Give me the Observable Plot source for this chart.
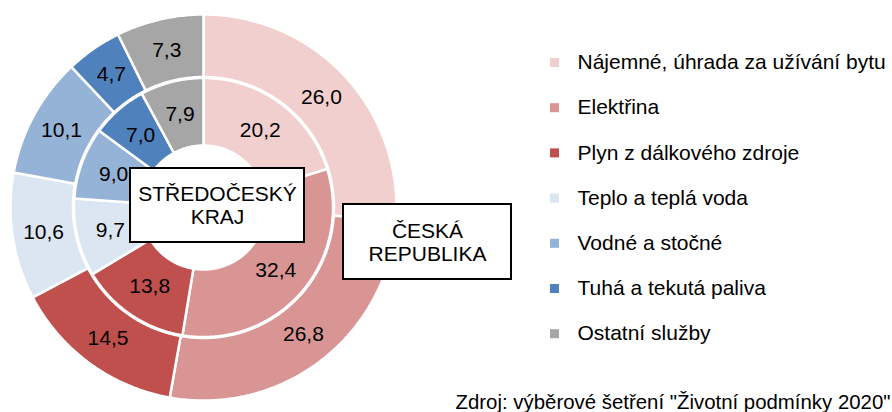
<!DOCTYPE html>
<html>
<head>
<meta charset="utf-8">
<script src="https://cdn.jsdelivr.net/npm/d3@7"></script>
<script src="https://cdn.jsdelivr.net/npm/@observablehq/plot@0.6"></script>
<style>
  html, body { margin: 0; padding: 0; background: #fff; }
  #chart { width: 892px; height: 412px; }
</style>
</head>
<body>
<div id="chart"></div>
<script>
// ---- data ----
const categories = [
  "Nájemné, úhrada za užívání bytu",
  "Elektřina",
  "Plyn z dálkového zdroje",
  "Teplo a teplá voda",
  "Vodné a stočné",
  "Tuhá a tekutá paliva",
  "Ostatní služby"
];
const colors = ["#f0cfce", "#d99594", "#c0504d", "#dce6f2", "#95b3d7", "#4f81bd", "#a6a6a6"];
const ceskaRepublika = [26.0, 26.8, 14.5, 10.6, 10.1, 4.7, 7.3];   // outer ring
const stredocesky   = [20.2, 32.4, 13.8, 9.7, 9.0, 7.0, 7.9];      // inner ring
const ringLabels = ["ČESKÁ\nREPUBLIKA", "STŘEDOČESKÝ\nKRAJ"];
const sourceText = 'Zdroj: výběrové šetření "Životní podmínky 2020"';

// ---- layout ----
const W = 892, H = 412;
const cx = 203, cy = 207;
const rings = [
  {values: ceskaRepublika, r0: 130.5, r1: 193},
  {values: stredocesky,   r0: 62,    r1: 129.5}
];
const font = "Liberation Sans, Arial, sans-serif";
const fs = 21;

// build slice polygons & labels from values
const polyPts = [];
const labels = [];
rings.forEach((ring, ri) => {
  const total = d3.sum(ring.values);
  let acc = 0;
  ring.values.forEach((v, i) => {
    const a0 = acc / total * 2 * Math.PI;
    const a1 = (acc + v) / total * 2 * Math.PI;
    acc += v;
    const id = ri + "-" + i;
    const n = Math.max(2, Math.ceil((a1 - a0) / 0.01));
    for (let k = 0; k <= n; k++) {
      const a = a0 + (a1 - a0) * k / n;
      polyPts.push({id, cat: categories[i], x: cx + ring.r1 * Math.sin(a), y: cy - ring.r1 * Math.cos(a)});
    }
    for (let k = n; k >= 0; k--) {
      const a = a0 + (a1 - a0) * k / n;
      polyPts.push({id, cat: categories[i], x: cx + ring.r0 * Math.sin(a), y: cy - ring.r0 * Math.cos(a)});
    }
    const am = (a0 + a1) / 2, rm = (ring.r0 + ring.r1) / 2;
    labels.push({x: cx + rm * Math.sin(am), y: cy - rm * Math.cos(am), text: v.toFixed(1).replace(".", ",")});
  });
});

// legend rows
const legend = categories.map((c, i) => ({cat: c, x: 554, tx: 577, y: 62 + i * 45.2}));

// ring title boxes
const boxes = [
  {label: ringLabels[0], x1: 343, x2: 511, y1: 204, y2: 279},
  {label: ringLabels[1], x1: 130, x2: 304, y1: 168, y2: 242}
];

const chart = Plot.plot({
  width: W, height: H,
  margin: 0,
  style: {fontFamily: font, background: "white"},
  x: {type: "linear", domain: [0, W], range: [0, W], axis: null},
  y: {type: "linear", domain: [0, H], range: [0, H], axis: null},
  color: {domain: categories, range: colors},
  marks: [
    Plot.line(polyPts, {x: "x", y: "y", z: "id", fill: "cat", stroke: "white", strokeWidth: 2.5, curve: "linear-closed", strokeLinejoin: "miter"}),
    Plot.text(labels, {x: "x", y: "y", text: "text", fontSize: fs, fill: "black"}),
    Plot.rect(boxes, {x1: "x1", x2: "x2", y1: "y1", y2: "y2", fill: "white", stroke: "black", strokeWidth: 2}),
    Plot.text(boxes, {x: d => (d.x1 + d.x2) / 2, y: d => (d.y1 + d.y2) / 2, text: "label", fontSize: fs, lineHeight: 1.1, fill: "black"}),
    Plot.dot(legend, {x: "x", y: "y", fill: "cat", symbol: "square", r: 5.1}),
    Plot.text(legend, {x: "tx", y: "y", text: "cat", textAnchor: "start", fontSize: fs, fill: "black"}),
    Plot.text([sourceText], {x: () => 890, y: () => 402, text: d => d, textAnchor: "end", fontSize: 20.4, fill: "black"})
  ]
});
document.getElementById("chart").appendChild(chart);
</script>
</body>
</html>
